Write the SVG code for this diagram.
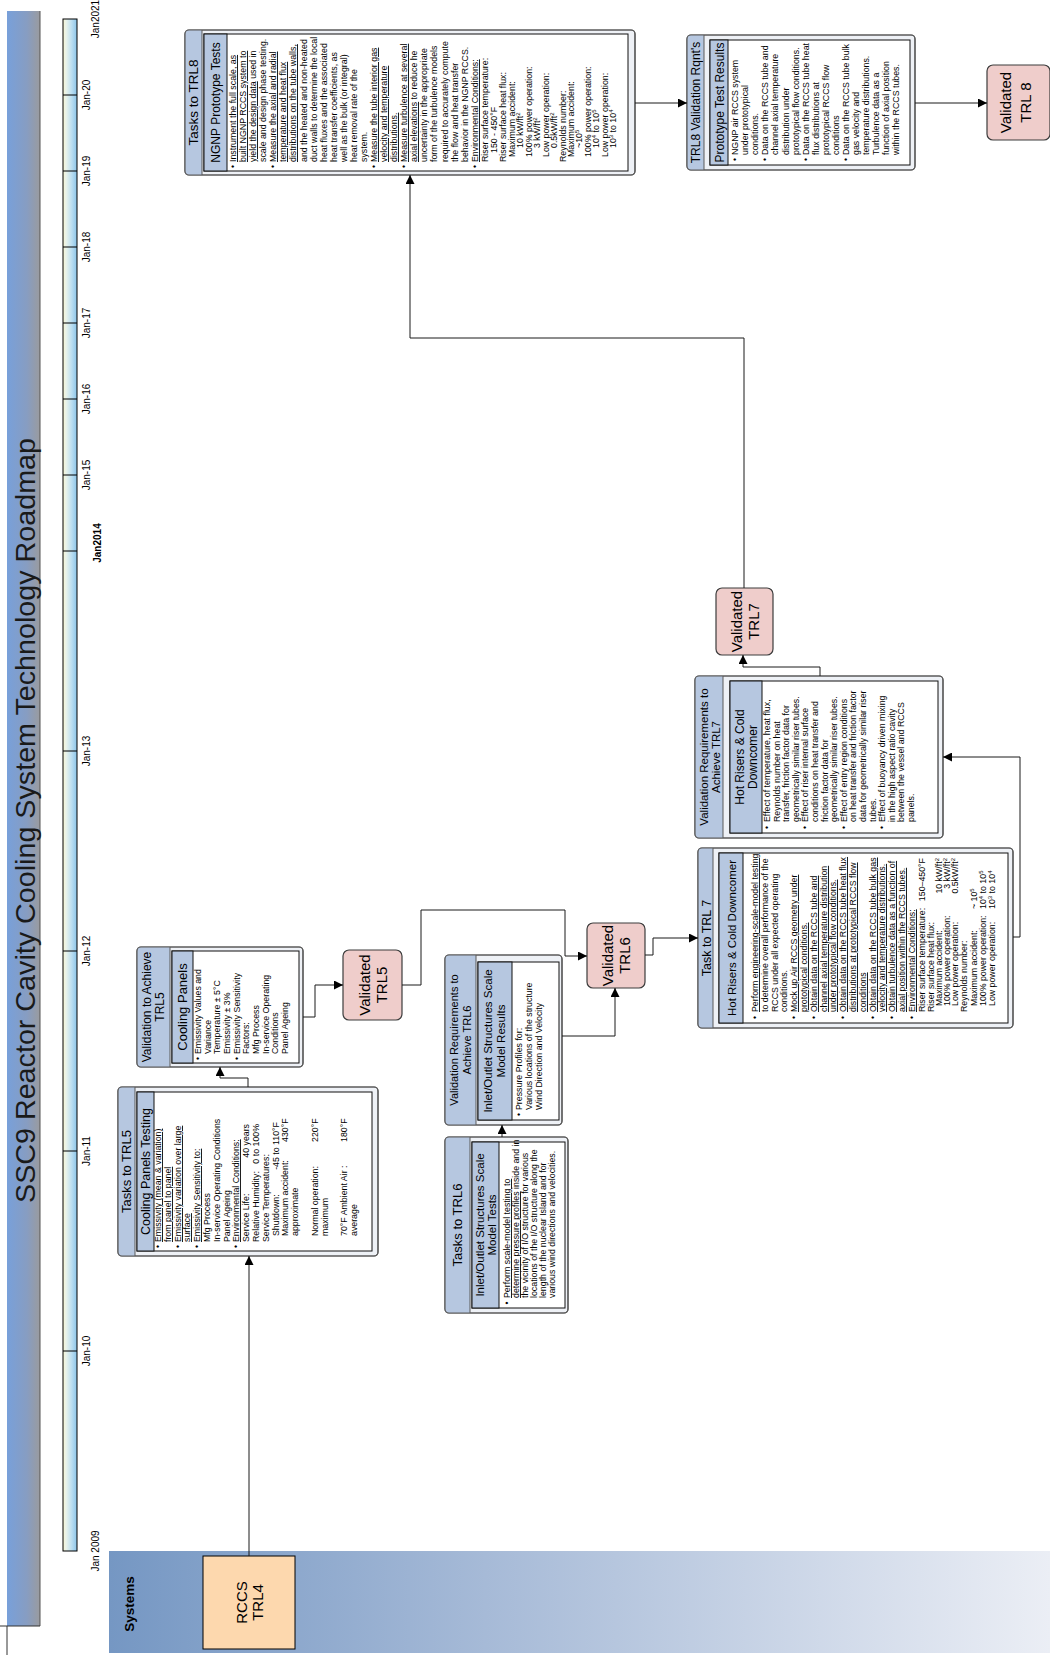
<svg xmlns="http://www.w3.org/2000/svg" width="1050" height="1655" viewBox="0 0 1050 1655">
<defs>
<linearGradient id="gTitle" x1="0" y1="0" x2="0" y2="1">
<stop offset="0" stop-color="#78a0da"/><stop offset="0.6" stop-color="#879dc2"/><stop offset="1" stop-color="#9a9b9f"/>
</linearGradient>
<linearGradient id="gTime" x1="0" y1="0" x2="0" y2="1">
<stop offset="0" stop-color="#faf7d6"/><stop offset="0.25" stop-color="#e6f1ea"/><stop offset="0.6" stop-color="#bddff1"/><stop offset="1" stop-color="#8cc5ea"/>
</linearGradient>
<linearGradient id="gSys" x1="0" y1="0" x2="0" y2="1">
<stop offset="0" stop-color="#7597c3"/><stop offset="0.4" stop-color="#a6bad7"/><stop offset="1" stop-color="#ebeef5"/>
</linearGradient>
<marker id="ah" viewBox="0 0 10 10" refX="10" refY="5" markerWidth="10" markerHeight="9" orient="auto" markerUnits="userSpaceOnUse">
<path d="M0,0 L10,5 L0,10 z" fill="#000"/>
</marker>
<style>
text{font-family:"Liberation Sans",Arial,sans-serif;fill:#000}
.o{fill:#eef1f6;stroke:#5a5a5a;stroke-width:1.2}
.on{fill:none;stroke:#5a5a5a;stroke-width:1.2}
.bd{fill:#b6c7e0}
.sep{stroke:#5a5a5a;stroke-width:1}
.in{fill:#fff;stroke:#111;stroke-width:1}
.ih{fill:#b6c7e0;stroke:#111;stroke-width:1}
.v{fill:#efcdcb;stroke:#3c3c3c;stroke-width:1.2}
.c text{font-size:8.8px}
.u{text-decoration:underline}
.m{text-anchor:middle}
.e{text-anchor:end}
.sup{font-size:6px;baseline-shift:super}
.ln{fill:none;stroke:#1a1a1a;stroke-width:1;marker-end:url(#ah)}
.tk{stroke:#000;stroke-width:1}
.yr{font-size:10px;text-anchor:middle}
.vt{font-size:15px;text-anchor:middle}
</style>
</defs>

<!-- whole roadmap is laid out left-to-right, then turned to read bottom-to-top -->
<g transform="translate(0 1655) rotate(-90)">

<!-- title bar -->
<g id="title">
<rect x="29" y="7" width="1615" height="33" fill="url(#gTitle)"/>
<line x1="29" y1="40" x2="1644" y2="40" stroke="#555" stroke-width="1"/>
<line x1="29" y1="0" x2="29" y2="40" stroke="#333" stroke-width="1"/>
<line x1="0" y1="7" x2="29" y2="7" stroke="#333" stroke-width="1"/>
<text x="834.5" y="35" font-size="28.5" class="m" textLength="765" lengthAdjust="spacingAndGlyphs" style="fill:#1a1a1a">SSC9 Reactor Cavity Cooling System Technology Roadmap</text>
</g>

<!-- timeline -->
<g id="timeline">
<rect x="104" y="63" width="1532" height="14" fill="url(#gTime)" stroke="#000" stroke-width="1"/>
<g class="tk">
<line x1="304" y1="63" x2="304" y2="77"/><line x1="504" y1="63" x2="504" y2="77"/>
<line x1="704" y1="63" x2="704" y2="77"/><line x1="904" y1="63" x2="904" y2="77"/>
<line x1="1104" y1="63" x2="1104" y2="77"/><line x1="1180" y1="63" x2="1180" y2="77"/>
<line x1="1256" y1="63" x2="1256" y2="77"/><line x1="1332" y1="63" x2="1332" y2="77"/>
<line x1="1408" y1="63" x2="1408" y2="77"/><line x1="1484" y1="63" x2="1484" y2="77"/>
<line x1="1560" y1="63" x2="1560" y2="77"/>
</g>
<text class="yr" x="104" y="99" font-size="10.5">Jan 2009</text>
<text class="yr" x="304" y="90">Jan-10</text>
<text class="yr" x="504" y="90">Jan-11</text>
<text class="yr" x="704" y="90">Jan-12</text>
<text class="yr" x="904" y="90">Jan-13</text>
<text class="yr" x="1112" y="101" font-weight="bold">Jan2014</text>
<text class="yr" x="1180" y="90">Jan-15</text>
<text class="yr" x="1256" y="90">Jan-16</text>
<text class="yr" x="1332" y="90">Jan-17</text>
<text class="yr" x="1408" y="90">Jan-18</text>
<text class="yr" x="1484" y="90">Jan-19</text>
<text class="yr" x="1560" y="90">Jan-20</text>
<text class="yr" x="1636" y="99" font-size="10.5">Jan2021</text>
</g>

<!-- swimlane -->
<g id="lane-systems">
<rect x="2" y="109" width="102" height="941" fill="url(#gSys)"/>
<text x="51" y="134" font-size="13.5" font-weight="bold" class="m">Systems</text>
</g>

<g id="n-rccs">
<rect x="6" y="203" width="93" height="92" fill="#fdd8ae" stroke="#000" stroke-width="1"/>
<text class="vt" x="52.5" y="247">RCCS</text>
<text class="vt" x="52.5" y="263">TRL4</text>
</g>

<!-- Tasks to TRL5 -->
<g id="n-tasks-trl5">
<rect class="o" x="399" y="118" width="169" height="260" rx="4"/>
<path class="bd" d="M399,135 V122 Q399,118 403,118 H564 Q568,118 568,122 V135 Z"/>
<line class="sep" x1="399" y1="135" x2="568" y2="135"/>
<rect class="on" x="399" y="118" width="169" height="260" rx="4"/>
<text x="483.5" y="131" font-size="13" class="m">Tasks to TRL5</text>
<rect class="in" x="404" y="137" width="159" height="235"/>
<rect class="ih" x="404" y="137" width="159" height="17"/>
<text x="483.5" y="150" font-size="12.5" class="m">Cooling Panels Testing</text>
<g class="c">
<text x="407" y="161">•</text><text x="413" y="161" class="u">Emissivity (mean &amp; variation)</text>
<text x="413" y="171" class="u">from panel to panel</text>
<text x="407" y="181">•</text><text x="413" y="181" class="u">Emissivity variation over large</text>
<text x="413" y="190" class="u">surface</text>
<text x="407" y="200">•</text><text x="413" y="200" class="u">Emissivity Sensitivity to:</text>
<text x="413" y="210">Mfg Process</text>
<text x="413" y="220">In-service Operating Conditions</text>
<text x="413" y="230">Panel Ageing</text>
<text x="407" y="239">•</text><text x="413" y="239" class="u">Environmental Conditions:</text>
<text x="413" y="249">Service Life:</text><text x="531" y="249" class="e">40 years</text>
<text x="413" y="259">Relative Humidity:</text><text x="531" y="259" class="e">0 to 100%</text>
<text x="413" y="269">Service Temperatures:</text>
<text x="419" y="279">Shutdown:</text><text x="533" y="279" class="e">-45 to 110°F</text>
<text x="419" y="288">Maximum accident:</text><text x="513" y="288">430°F</text>
<text x="419" y="298">approximate</text>
<text x="419" y="318">Normal operation:</text><text x="513" y="318">220°F</text>
<text x="419" y="328">maximum</text>
<text x="419" y="347">70°F Ambient Air :</text><text x="513" y="347">180°F</text>
<text x="419" y="357">average</text>
</g>
</g>

<!-- Validation to Achieve TRL5 -->
<g id="n-val-trl5">
<rect class="o" x="588" y="137" width="120" height="166" rx="4"/>
<path class="bd" d="M588,170 V141 Q588,137 592,137 H704 Q708,137 708,141 V170 Z"/>
<line class="sep" x1="588" y1="170" x2="708" y2="170"/>
<rect class="on" x="588" y="137" width="120" height="166" rx="4"/>
<text x="648" y="151" font-size="12" class="m">Validation to Achieve</text>
<text x="648" y="164" font-size="12" class="m">TRL5</text>
<rect class="in" x="592" y="172" width="112" height="127"/>
<rect class="ih" x="592" y="172" width="112" height="21"/>
<text x="648" y="187" font-size="13" class="m">Cooling Panels</text>
<g class="c">
<text x="595" y="201">•</text><text x="601" y="201">Emissivity Values and</text>
<text x="601" y="210.7">Variance</text>
<text x="601" y="220.3">Temperature ± 5°C</text>
<text x="601" y="230">Emissivity ± 3%</text>
<text x="595" y="239.7">•</text><text x="601" y="239.7">Emissivity Sensitivity</text>
<text x="601" y="249.3">Factors:</text>
<text x="601" y="259">Mfg Process</text>
<text x="601" y="268.7">In-service Operating</text>
<text x="601" y="278.3">Conditions</text>
<text x="601" y="288">Panel Ageing</text>
</g>
</g>

<g id="n-validated-trl5">
<rect class="v" x="635" y="343" width="70" height="59" rx="6"/>
<text class="vt" x="670" y="369.5">Validated</text>
<text class="vt" x="670" y="386.5">TRL5</text>
</g>

<!-- Tasks to TRL6 -->
<g id="n-tasks-trl6">
<rect class="o" x="342" y="445" width="176" height="123" rx="4"/>
<path class="bd" d="M342,470 V449 Q342,445 346,445 H514 Q518,445 518,449 V470 Z"/>
<line class="sep" x1="342" y1="470" x2="518" y2="470"/>
<rect class="on" x="342" y="445" width="176" height="123" rx="4"/>
<text x="430" y="462" font-size="13" class="m">Tasks to TRL6</text>
<rect class="in" x="347" y="472" width="166" height="93"/>
<rect class="ih" x="347" y="472" width="166" height="27"/>
<text x="430" y="484" font-size="11.5" class="m">Inlet/Outlet Structures Scale</text>
<text x="430" y="496" font-size="11.5" class="m">Model Tests</text>
<g class="c">
<text x="350.5" y="510">•</text><text x="357" y="510" class="u">Perform scale-model testing to</text>
<text x="357" y="519"><tspan class="u">determine pressure profiles</tspan> inside and in</text>
<text x="357" y="528">the vicinity of I/O structure for various</text>
<text x="357" y="537">locations of the I/O structure along the</text>
<text x="357" y="546">length of the nuclear Island and for</text>
<text x="357" y="555">various wind directions and velocities.</text>
</g>
</g>

<!-- Validation Requirements to Achieve TRL6 -->
<g id="n-val-trl6">
<rect class="o" x="530" y="445" width="170" height="117" rx="4"/>
<path class="bd" d="M530,476 V449 Q530,445 534,445 H696 Q700,445 700,449 V476 Z"/>
<line class="sep" x1="530" y1="476" x2="700" y2="476"/>
<rect class="on" x="530" y="445" width="170" height="117" rx="4"/>
<text x="615" y="458" font-size="11" class="m">Validation Requirements to</text>
<text x="615" y="471" font-size="11" class="m">Achieve TRL6</text>
<rect class="in" x="535" y="478" width="158" height="81"/>
<rect class="ih" x="535" y="478" width="158" height="34"/>
<text x="614" y="492" font-size="11.5" class="m">Inlet/Outlet Structures Scale</text>
<text x="614" y="505" font-size="11.5" class="m">Model Results</text>
<g class="c">
<text x="539" y="522">•</text><text x="545" y="522">Pressure Profiles for:</text>
<text x="545" y="532">Various locations of the structure</text>
<text x="545" y="542">Wind Direction and Velocity</text>
</g>
</g>

<g id="n-validated-trl6">
<rect class="v" x="667" y="587" width="65" height="58" rx="6"/>
<text class="vt" x="699.5" y="613">Validated</text>
<text class="vt" x="699.5" y="630">TRL6</text>
</g>

<!-- Task to TRL 7 -->
<g id="n-task-trl7">
<rect class="o" x="627" y="698" width="180" height="315" rx="4"/>
<path class="bd" d="M627,713 V702 Q627,698 631,698 H803 Q807,698 807,702 V713 Z"/>
<line class="sep" x1="627" y1="713" x2="807" y2="713"/>
<rect class="on" x="627" y="698" width="180" height="315" rx="4"/>
<text x="717" y="710.5" font-size="12.5" class="m">Task to TRL 7</text>
<rect class="in" x="632" y="719" width="170" height="289"/>
<rect class="ih" x="632" y="719" width="170" height="24"/>
<text x="717" y="736" font-size="11.5" class="m">Hot Risers &amp; Cold Downcomer</text>
<g class="c">
<text x="636" y="758">•</text><text x="643" y="758" class="u">Perform engineering-scale-model testing</text>
<text x="643" y="768">to determine overall performance of the</text>
<text x="643" y="778">RCCS under all expected operating</text>
<text x="643" y="787">conditions.</text>
<text x="636" y="797">•</text><text x="643" y="797" class="u">Mock up Air RCCS geometry under</text>
<text x="643" y="807" class="u">prototypical conditions.</text>
<text x="636" y="817">•</text><text x="643" y="817" class="u">Obtain data on the RCCS tube and</text>
<text x="643" y="827" class="u">channel axial temperature distribution</text>
<text x="643" y="836" class="u">under prototypical flow conditions.</text>
<text x="636" y="846">•</text><text x="643" y="846" class="u">Obtain data on the RCCS tube heat flux</text>
<text x="643" y="856" class="u">distributions at prototypical RCCS flow</text>
<text x="643" y="866" class="u">conditions</text>
<text x="636" y="876">•</text><text x="643" y="876" class="u">Obtain data on the RCCS tube bulk gas</text>
<text x="643" y="885" class="u">velocity and temperature distributions.</text>
<text x="636" y="895">•</text><text x="643" y="895" class="u">Obtain turbulence data as a function of</text>
<text x="643" y="905" class="u">axial position within the RCCS tubes.</text>
<text x="636" y="915">•</text><text x="643" y="915" class="u">Environmental Conditions:</text>
<text x="643" y="925">Riser surface temperature:</text><text x="797" y="925" class="e">150–450°F</text>
<text x="643" y="934">Riser surface heat flux:</text>
<text x="649" y="942">Maximum accident:</text><text x="797" y="942" class="e">10 kW/ft<tspan class="sup">2</tspan></text>
<text x="649" y="950">100% power operation:</text><text x="797" y="950" class="e">3 kW/ft<tspan class="sup">2</tspan></text>
<text x="649" y="958">Low power operation:</text><text x="797" y="958" class="e">0.5kW/ft<tspan class="sup">2</tspan></text>
<text x="643" y="967">Reynolds number:</text>
<text x="649" y="977">Maximum accident:</text><text x="746" y="977">~ 10<tspan class="sup">5</tspan></text>
<text x="649" y="986">100% power operation:</text><text x="746" y="986">10<tspan class="sup">4</tspan> to 10<tspan class="sup">5</tspan></text>
<text x="649" y="995">Low power operation:</text><text x="746" y="995">10<tspan class="sup">3</tspan> to 10<tspan class="sup">4</tspan></text>
</g>
</g>

<!-- Validation Requirements to Achieve TRL7 -->
<g id="n-val-trl7">
<rect class="o" x="817" y="695" width="162" height="248" rx="4"/>
<path class="bd" d="M817,723 V699 Q817,695 821,695 H975 Q979,695 979,699 V723 Z"/>
<line class="sep" x1="817" y1="723" x2="979" y2="723"/>
<rect class="on" x="817" y="695" width="162" height="248" rx="4"/>
<text x="898" y="708" font-size="11.5" class="m">Validation Requirements to</text>
<text x="898" y="720" font-size="11.5" class="m">Achieve TRL7</text>
<rect class="in" x="822" y="730" width="152" height="208"/>
<rect class="ih" x="822" y="730" width="152" height="32"/>
<text x="898" y="744" font-size="12" class="m">Hot Risers &amp; Cold</text>
<text x="898" y="757" font-size="12" class="m">Downcomer</text>
<g class="c">
<text x="826" y="770">•</text><text x="833" y="770">Effect of temperature, heat flux,</text>
<text x="833" y="780">Reynolds number on heat</text>
<text x="833" y="789">transfer, friction factor data for</text>
<text x="833" y="799">geometrically similar riser tubes.</text>
<text x="826" y="808">•</text><text x="833" y="808">Effect of riser internal surface</text>
<text x="833" y="818">conditions on heat transfer and</text>
<text x="833" y="828">friction factor data for</text>
<text x="833" y="837">geometrically similar riser tubes.</text>
<text x="826" y="847">•</text><text x="833" y="847">Effect of entry region conditions</text>
<text x="833" y="856">on heat transfer and friction factor</text>
<text x="833" y="866">data for geometrically similar riser</text>
<text x="833" y="876">tubes.</text>
<text x="826" y="885">•</text><text x="833" y="885">Effect of buoyancy driven mixing</text>
<text x="833" y="895">in the high aspect ratio cavity</text>
<text x="833" y="904">between the vessel and RCCS</text>
<text x="833" y="914">panels.</text>
</g>
</g>

<g id="n-validated-trl7">
<rect class="v" x="1000" y="716" width="67" height="57" rx="6"/>
<text class="vt" x="1033.5" y="741.5">Validated</text>
<text class="vt" x="1033.5" y="758.5">TRL7</text>
</g>

<!-- Tasks to TRL8 -->
<g id="n-tasks-trl8">
<rect class="o" x="1480" y="185" width="145" height="450" rx="4"/>
<path class="bd" d="M1480,202 V189 Q1480,185 1484,185 H1621 Q1625,185 1625,189 V202 Z"/>
<line class="sep" x1="1480" y1="202" x2="1625" y2="202"/>
<rect class="on" x="1480" y="185" width="145" height="450" rx="4"/>
<text x="1552.5" y="198" font-size="13.5" class="m">Tasks to TRL8</text>
<rect class="in" x="1484" y="204" width="137" height="424"/>
<rect class="ih" x="1484" y="204" width="137" height="23"/>
<text x="1552.5" y="220" font-size="12" class="m">NGNP Prototype Tests</text>
<g class="c">
<text x="1487" y="236">•</text><text x="1493" y="236" class="u">Instrument the full scale, as</text>
<text x="1493" y="246" class="u">built NGNP RCCS system to</text>
<text x="1493" y="256"><tspan class="u">yield the design data</tspan> used in</text>
<text x="1493" y="266">scale and design phase testing.</text>
<text x="1487" y="276">•</text><text x="1493" y="276" class="u">Measure the axial and radial</text>
<text x="1493" y="286" class="u">temperature and heat flux</text>
<text x="1493" y="296" class="u">distributions on the tube walls,</text>
<text x="1493" y="307">and the heated and non-heated</text>
<text x="1493" y="317">duct walls to determine the local</text>
<text x="1493" y="327">heat fluxes and the associated</text>
<text x="1493" y="337">heat transfer coefficients, as</text>
<text x="1493" y="347">well as the bulk (or integral)</text>
<text x="1493" y="357">heat removal rate of the</text>
<text x="1493" y="367">system.</text>
<text x="1487" y="377">•</text><text x="1493" y="377" class="u">Measure the tube interior gas</text>
<text x="1493" y="387" class="u">velocity and temperature</text>
<text x="1493" y="397" class="u">distributions.</text>
<text x="1487" y="407">•</text><text x="1493" y="407" class="u">Measure turbulence at several</text>
<text x="1493" y="417"><tspan class="u">axial elevations</tspan> to reduce he</text>
<text x="1493" y="427">uncertainty in the appropriate</text>
<text x="1493" y="437">form of the turbulence models</text>
<text x="1493" y="448">required to accurately compute</text>
<text x="1493" y="458">the flow and heat transfer</text>
<text x="1493" y="468">behavior in the NGNP RCCS.</text>
<text x="1487" y="478">•</text><text x="1493" y="478" class="u">Environmental Conditions:</text>
<text x="1493" y="488">Riser surface temperature:</text>
<text x="1502" y="497">150 - 450°F</text>
<text x="1493" y="506">Riser surface heat flux:</text>
<text x="1498" y="515">Maximum accident:</text>
<text x="1507" y="523">10 kW/ft<tspan class="sup">2</tspan></text>
<text x="1498" y="532">100% power operation:</text>
<text x="1507" y="540">3 kW/ft<tspan class="sup">2</tspan></text>
<text x="1498" y="549">Low power operation:</text>
<text x="1507" y="557">0.5kW/ft<tspan class="sup">2</tspan></text>
<text x="1493" y="566">Reynolds number:</text>
<text x="1498" y="574">Maximum accident:</text>
<text x="1507" y="582">~10<tspan class="sup">5</tspan></text>
<text x="1498" y="591">100% power operation:</text>
<text x="1507" y="599">10<tspan class="sup">4</tspan> to 10<tspan class="sup">5</tspan></text>
<text x="1498" y="608">Low power operation:</text>
<text x="1507" y="616">10<tspan class="sup">3</tspan> to 10<tspan class="sup">4</tspan></text>
</g>
</g>

<!-- TRL8 Validation Rqnt's -->
<g id="n-val-trl8">
<rect class="o" x="1485" y="687" width="135" height="228" rx="4"/>
<path class="bd" d="M1485,704 V691 Q1485,687 1489,687 H1616 Q1620,687 1620,691 V704 Z"/>
<line class="sep" x1="1485" y1="704" x2="1620" y2="704"/>
<rect class="on" x="1485" y="687" width="135" height="228" rx="4"/>
<text x="1552.5" y="700" font-size="12" class="m">TRL8 Validation Rqnt's</text>
<rect class="in" x="1490" y="710" width="125" height="200"/>
<rect class="ih" x="1490" y="710" width="125" height="18"/>
<text x="1552.5" y="724" font-size="12" class="m">Prototype Test Results</text>
<g class="c">
<text x="1494" y="738">•</text><text x="1500" y="738">NGNP air RCCS system</text>
<text x="1500" y="748">under prototypical</text>
<text x="1500" y="758">conditions.</text>
<text x="1494" y="768">•</text><text x="1500" y="768">Data on the RCCS tube and</text>
<text x="1500" y="778">channel axial temperature</text>
<text x="1500" y="789">distribution under</text>
<text x="1500" y="799">prototypical flow conditions.</text>
<text x="1494" y="809">•</text><text x="1500" y="809">Data on the RCCS tube heat</text>
<text x="1500" y="819">flux distributions at</text>
<text x="1500" y="829">prototypical RCCS flow</text>
<text x="1500" y="839">conditions</text>
<text x="1494" y="849">•</text><text x="1500" y="849">Data on the RCCS tube bulk</text>
<text x="1500" y="859">gas velocity and</text>
<text x="1500" y="869">temperature distributions.</text>
<text x="1500" y="879">Turbulence data as a</text>
<text x="1500" y="889">function of axial position</text>
<text x="1500" y="899">within the RCCS tubes.</text>
</g>
</g>

<g id="n-validated-trl8">
<rect class="v" x="1515" y="987" width="75" height="63" rx="6"/>
<text class="vt" x="1552.5" y="1011" font-size="16">Validated</text>
<text class="vt" x="1552.5" y="1031" font-size="16">TRL 8</text>
</g>

<!-- connectors -->
<g id="connectors">
<path class="ln" d="M99,249 H399"/>
<path class="ln" d="M568,248 H577 V220 H588"/>
<path class="ln" d="M638,303 V315 H670 V343"/>
<path class="ln" d="M670,402 V421 H745 V565 H699 V587"/>
<path class="ln" d="M518,502 H530"/>
<path class="ln" d="M619,562 V615 H667"/>
<path class="ln" d="M700,645 V653 H717 V698"/>
<path class="ln" d="M718,1013 V1020 H898 V943"/>
<path class="ln" d="M979,820 H988 V743 H1000"/>
<path class="ln" d="M1067,744 H1317 V410 H1480"/>
<path class="ln" d="M1552,635 V687"/>
<path class="ln" d="M1552,915 V987"/>
</g>

</g>
</svg>
